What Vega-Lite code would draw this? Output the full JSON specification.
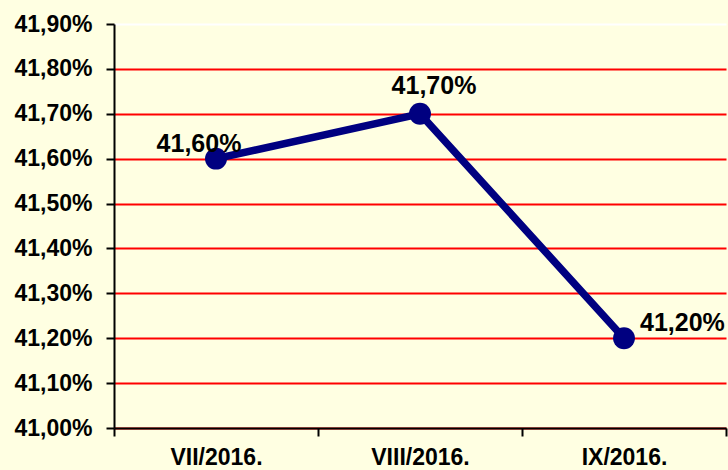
{
  "$schema": "https://vega.github.io/schema/vega-lite/v6.json",
  "width": 612,
  "height": 404,
  "autosize": {"type": "none"},
  "padding": {"left": 114, "top": 24, "right": 2, "bottom": 42},
  "background": "#FFFFE2",
  "config": {
    "locale": {"number": {"decimal": ",", "thousands": ".", "grouping": [3], "currency": ["", " €"]}},
    "view": {"stroke": null},
    "font": "Liberation Sans",
    "axis": {"labelFont": "Liberation Sans", "labelFontWeight": "bold", "labelColor": "#000000", "labelFontSize": 23, "domainColor": "#000000", "tickColor": "#000000", "domainWidth": 2, "tickWidth": 2, "tickSize": 8}
  },
  "data": {"values": [
    {"month": "VII/2016.", "value": 0.416},
    {"month": "VIII/2016.", "value": 0.417},
    {"month": "IX/2016.", "value": 0.412}
  ]},
  "encoding": {
    "x": {"field": "month", "type": "nominal", "sort": null, "scale": {"paddingInner": 0, "paddingOuter": 0},
      "axis": {"title": null, "labelAngle": 0, "tickBand": "extent", "labelPadding": 10, "grid": false}},
    "y": {"field": "value", "type": "quantitative", "scale": {"domain": [0.41, 0.419], "zero": false, "nice": false},
      "axis": {"title": null, "format": ".2%", "values": [0.41, 0.411, 0.412, 0.413, 0.414, 0.415, 0.416, 0.417, 0.418, 0.419],
        "grid": true, "gridColor": {"condition": {"test": "datum.value >= 0.4189", "value": "#FFFFFF"}, "value": "#FF0000"}, "gridWidth": 2, "gridOpacity": 1, "labelPadding": 14}}
  },
  "layer": [
    {"mark": {"type": "line", "color": "#000080", "strokeWidth": 7.5}},
    {"mark": {"type": "point", "filled": true, "opacity": 1, "color": "#000080", "size": 480}},
    {"transform": [{"filter": "datum.month == 'VII/2016.'"}],
     "mark": {"type": "text", "fontSize": 25, "fontWeight": "bold", "color": "#000000", "align": "center", "dx": -17, "dy": -15},
     "encoding": {"text": {"field": "value", "type": "quantitative", "format": ".2%"}}},
    {"transform": [{"filter": "datum.month == 'VIII/2016.'"}],
     "mark": {"type": "text", "fontSize": 25, "fontWeight": "bold", "color": "#000000", "align": "center", "dx": 14, "dy": -28},
     "encoding": {"text": {"field": "value", "type": "quantitative", "format": ".2%"}}},
    {"transform": [{"filter": "datum.month == 'IX/2016.'"}],
     "mark": {"type": "text", "fontSize": 25, "fontWeight": "bold", "color": "#000000", "align": "left", "dx": 16, "dy": -15},
     "encoding": {"text": {"field": "value", "type": "quantitative", "format": ".2%"}}}
  ]
}
